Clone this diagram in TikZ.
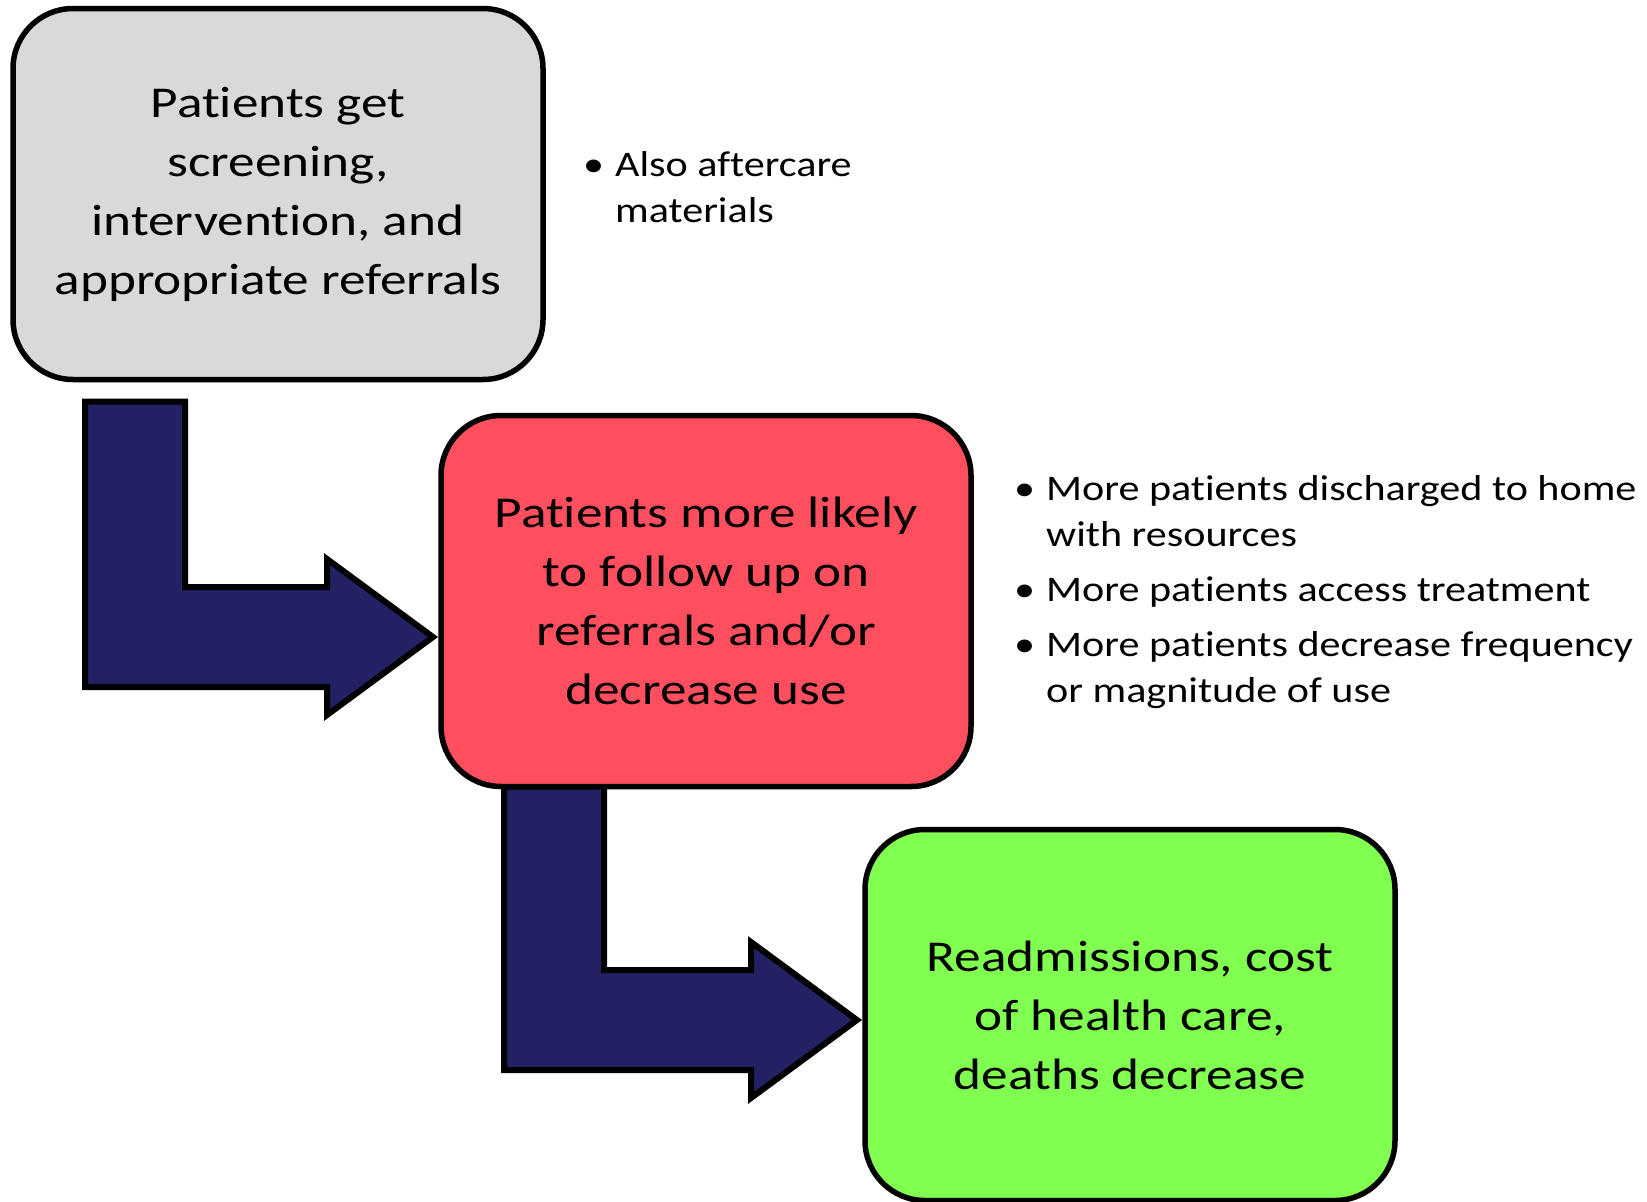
\documentclass[tikz,border=0pt]{standalone}
\usepackage{fontspec}
\setmainfont{Carlito}[Ligatures=NoCommon]
\newfontfamily\boxfont{Carlito}[Ligatures=NoCommon, FakeStretch=1.21]
\newfontfamily\notefont{Carlito}[Ligatures=NoCommon, FakeStretch=1.17]
\usetikzlibrary{positioning,calc,backgrounds}
\definecolor{boxGris}{HTML}{D9D9D9}
\definecolor{boxRouge}{HTML}{FF4F5E}
\definecolor{boxVert}{HTML}{80FF50}
\definecolor{flecheC}{RGB}{33,33,99}
\tikzset{
  stage/.style={rectangle, rounded corners=60pt, draw=black, line width=5.5pt, fill=#1,
                align=center, minimum width=530pt, minimum height=371pt,
                inner sep=0pt, outer sep=0pt, font=\boxfont\fontsize{44}{59}\selectfont},
  notes/.style={anchor=base west, inner sep=0pt, font=\notefont\fontsize{36}{46}\selectfont},
  elbow/.style={fill=flecheC, draw=black, line width=6pt, line join=miter},
}
\newcommand{\puce}{\makebox[32pt][l]{\textbullet}}
\newcommand{\retrait}{\hspace*{32pt}}
% bent arrow: #1 top middle of the vertical bar, #2 tip of the head
\newcommand{\coude}[2]{%
  \draw[elbow] let \p1=#1, \p2=#2 in
    (\x1-50pt,\y1) -- (\x1+50pt,\y1) -- (\x1+50pt,\y2+50pt) -- (\x2-106pt,\y2+50pt)
    -- (\x2-106pt,\y2+78pt) -- (\x2,\y2) -- (\x2-106pt,\y2-78pt) -- (\x2-106pt,\y2-50pt)
    -- (\x1-50pt,\y2-50pt) -- cycle;}

\begin{document}
\begin{tikzpicture}[x=1pt, y=1pt]
  \useasboundingbox (0,0) rectangle (1647,-1202);
  \node[stage=boxGris] (screen) at (278,-194)
    {Patients get\\screening,\\intervention, and\\appropriate referrals};
  \node[stage=boxRouge, below right=36pt and -102pt of screen] (follow)
    {Patients more likely\\to follow up on\\referrals and/or\\decrease use};
  \node[stage=boxVert, below right=43pt and -106pt of follow] (outcome)
    {Readmissions, cost\\of health care,\\deaths decrease};

  \node[notes] (extra) at (583,-176)
    {\begin{tabular}[t]{@{}l@{}}\puce Also aftercare\\ \retrait materials\end{tabular}};
  \node[notes] (effects) at (1014,-500)
    {\begin{tabular}[t]{@{}l@{}}
      \puce More patients discharged to home\\ \retrait with resources\\[9pt]
      \puce More patients access treatment\\[9pt]
      \puce More patients decrease frequency\\ \retrait or magnitude of use
    \end{tabular}};

  \begin{scope}[on background layer]
    \coude{($(screen.south west)+(122,-22)$)}{($(follow.west)+(-8,-36)$)}
    \coude{($(follow.south west)+(113,0)$)}{($(outcome.west)+(-8,-5)$)}
  \end{scope}
\end{tikzpicture}
\end{document}
